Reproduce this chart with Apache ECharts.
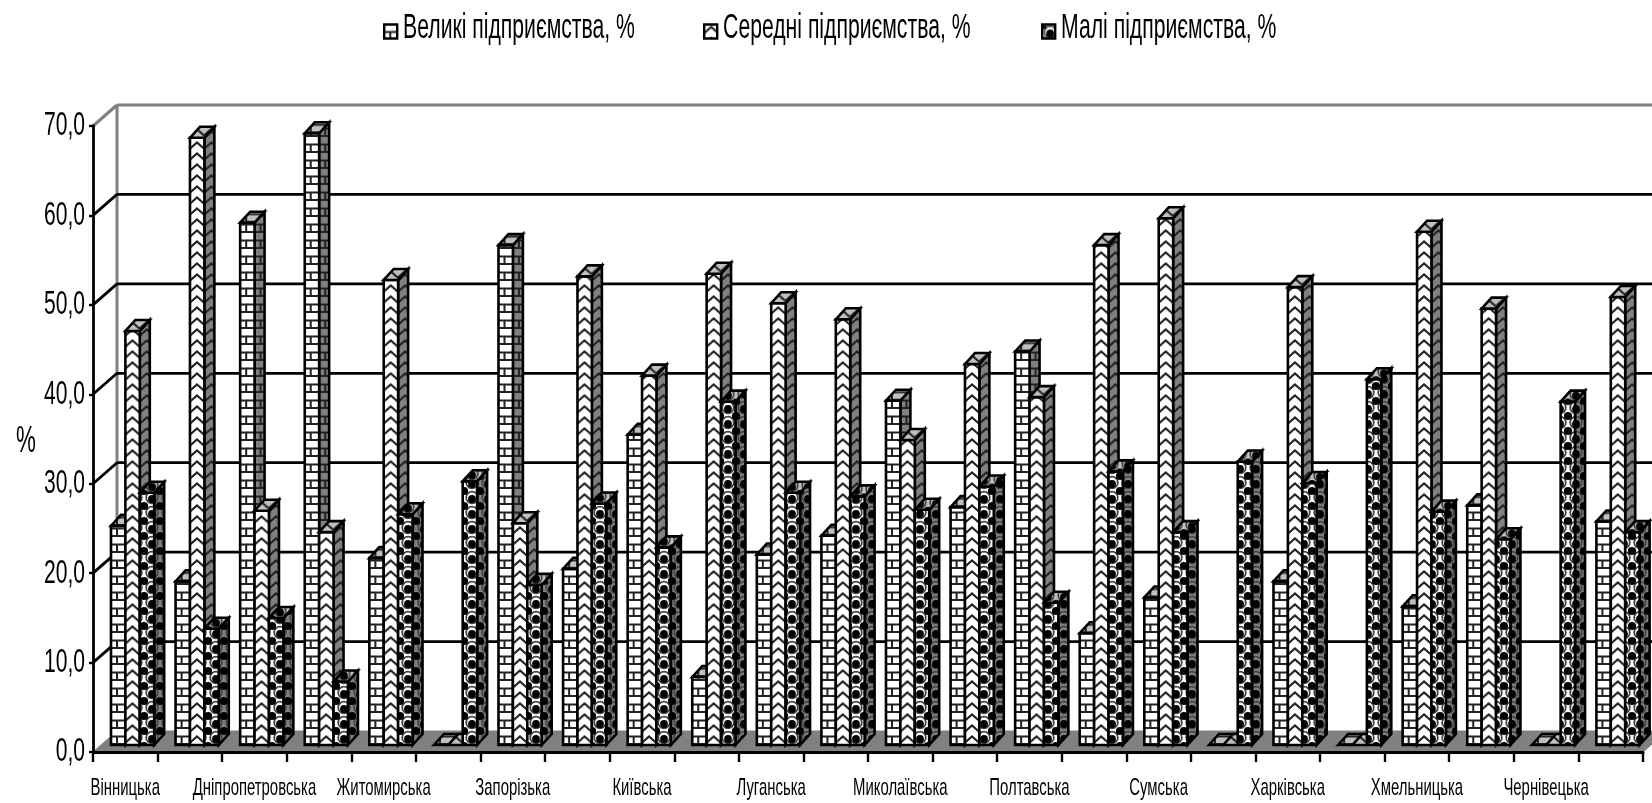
<!DOCTYPE html>
<html><head><meta charset="utf-8">
<style>html,body{margin:0;padding:0;background:#fff}#c{width:1652px;height:803px}</style>
<script src="https://cdn.jsdelivr.net/npm/echarts@6/dist/echarts.min.js"></script>
</head><body><div id="c"></div>
<script>
const categories = ['Вінницька','Волинська','Дніпропетровська','Донецька','Житомирська','Закарпатська','Запорізька','Івано-Франківська','Київська','Кіровоградська','Луганська','Львівська','Миколаївська','Одеська','Полтавська','Рівненська','Сумська','Тернопільська','Харківська','Херсонська','Хмельницька','Черкаська','Чернівецька','Чернігівська'];
const large  = [24.5,18.3,58.4,68.4,20.9,0,55.9,19.7,34.7,7.6,21.3,23.4,38.5,26.6,44,12.5,16.5,0,18.3,0,15.5,26.8,0,25];
const medium = [46.3,67.9,26.2,23.8,52,0,24.8,52.4,41.3,52.7,49.4,47.6,34.1,42.6,38.9,55.9,58.9,0,51.2,0,57.4,48.8,0,50.1];
const small  = [28.2,13,14.2,7.1,25.8,29.5,17.9,27,22.1,38.4,28.2,27.8,26.3,28.9,15.9,30.6,23.8,31.7,29.3,40.9,26.1,23,38.4,23.8];
const seriesNames = ['Великі підприємства, %','Середні підприємства, %','Малі підприємства, %'];
const wallTicks = [0,10,20,30,40,50,60,70];
const FONT = '"Liberation Sans"';
const TEXT_SCALE = 0.62, LEGEND_SCALE = 0.605;
const DEPTH_X = 24, DEPTH_Y = 21, BAR_W = 14.4, BAR_DX = 10, BAR_DY = 11, LIFT = 7, BAR_START = -14.3;

function tile(w, h, bg, draw) {
  const c = document.createElement('canvas'); c.width = w; c.height = h;
  const g = c.getContext('2d'); g.fillStyle = bg; g.fillRect(0, 0, w, h);
  g.strokeStyle = '#111'; g.fillStyle = '#000'; draw(g); return c;
}
const drawBrick = g => {
  g.lineWidth = 2; g.strokeStyle = '#222'; g.beginPath();
  g.moveTo(0,7.5); g.lineTo(14,7.5); g.moveTo(0,15); g.lineTo(14,15);
  g.moveTo(6,7.5); g.lineTo(6,15); g.stroke();
};
const drawChevron = g => {
  g.lineWidth = 2.2; g.strokeStyle = '#222'; g.beginPath();
  g.moveTo(-1,9.5); g.lineTo(7,2.5); g.lineTo(15,9.5); g.stroke();
};
const drawBall = g => {
  g.lineWidth = 1.8; g.strokeStyle = '#444';
  g.beginPath(); g.arc(8,7.5,5.8,0,Math.PI*2); g.stroke();
  g.beginPath(); g.arc(8,9,3.9,0,Math.PI*2); g.fill();
  for (const [x,y] of [[0,1],[16,1],[0,16],[16,16]]) { g.beginPath(); g.arc(x,y,4.1,0,Math.PI*2); g.fill(); }
};
const makers = [[14,16,drawBrick],[14,11,drawChevron],[16,15,drawBall]];
const tiles = makers.map(([w,h,d]) => ({
  front: tile(w,h,'#fff',d), side: tile(w,h,'#808080',d), cap: tile(w,h,'#c0c0c0',d)
}));
const pat = (img,x,y) => ({image:img, repeat:'repeat', x:x, y:y});

function barSeries(i, name, vals) {
  return {
    type:'custom', name, z:3+i, clip:false,
    data: vals.map((v,k)=>[k,v]),
    encode:{x:0,y:1},
    itemStyle:{color:'#000'},
    renderItem(params, api) {
      const k = api.value(0), v = api.value(1);
      const b = api.coord([k,0]), t = api.coord([k,v]);
      const x0 = b[0] + BAR_START + i*BAR_W, x1 = x0 + BAR_W;
      const yb = b[1] - LIFT, yt = t[1] - LIFT;
      const line = {stroke:'#000', lineWidth:2.6, lineJoin:'miter'};
      const T = tiles[i];
      const ax = i === 2 ? 0 : x0, ay = yb;
      const kids = [];
      if (v > 0) {
        kids.push({type:'polygon', shape:{points:[[x1,yb],[x1+BAR_DX,yb-BAR_DY],[x1+BAR_DX,yt-BAR_DY],[x1,yt]]},
          style:Object.assign({fill:pat(T.side,i === 2 ? 0 : x1,ay)},line)});
        kids.push({type:'rect', shape:{x:x0,y:yt,width:BAR_W,height:yb-yt},
          style:Object.assign({fill:pat(T.front,ax,ay)},line)});
      }
      kids.push({type:'polygon', shape:{points:[[x0,yt],[x0+BAR_DX,yt-BAR_DY],[x1+BAR_DX,yt-BAR_DY],[x1,yt]]},
        style:Object.assign({fill:pat(T.cap,ax,yt)},line)});
      return {type:'group', children:kids};
    }
  };
}

const wallSeries = {
  type:'custom', name:'wall', z:1, clip:false, silent:true, legendHoverLink:false,
  data: wallTicks.map(v=>[0,v]),
  encode:{x:0,y:1},
  renderItem(params, api) {
    const v = api.value(1), y = api.coord([0,v])[1];
    const cs = params.coordSys, L = cs.x, R = cs.x + cs.width;
    const gray = '#808080';
    const kids = [];
    if (v === 0) {
      kids.push({type:'polygon', shape:{points:[[L,y],[L+DEPTH_X,y-DEPTH_Y],[R+DEPTH_X,y-DEPTH_Y],[R,y]]}, style:{fill:gray, stroke:gray, lineWidth:1}});
      const top = api.coord([0,70])[1];
      kids.push({type:'line', shape:{x1:L+DEPTH_X,y1:top-DEPTH_Y,x2:L+DEPTH_X,y2:y-DEPTH_Y}, style:{stroke:gray,lineWidth:3}});
    } else {
      const col = v === 70 ? gray : '#000', w = v === 70 ? 3.2 : 2.8;
      kids.push({type:'line', shape:{x1:L,y1:y,x2:L+DEPTH_X,y2:y-DEPTH_Y}, style:{stroke:col,lineWidth:w}});
      kids.push({type:'line', shape:{x1:L+DEPTH_X,y1:y-DEPTH_Y,x2:R+DEPTH_X,y2:y-DEPTH_Y}, style:{stroke:col,lineWidth:w}});
    }
    return {type:'group', children:kids};
  }
};

const legendLefts = [383,703,1041];
const chart = echarts.init(document.getElementById('c'), null, {width:1652,height:803});
chart.setOption({
  animation:false, backgroundColor:'#fff',
  grid:{left:93, top:126, width:1550, height:626, containLabel:false, outerBoundsMode:'none'},
  legend: seriesNames.map((n,i)=>({
    left:legendLefts[i], top:14, padding:0, itemWidth:13, itemHeight:14, selectedMode:false, icon:'rect',
    textStyle:{fontFamily:FONT, fontSize:35, color:'#000'},
    data:[{name:n, itemStyle:{color:pat(tiles[i].front,0,0), borderColor:'#000', borderWidth:2.4}}]
  })),
  xAxis:{
    type:'category', data:categories, z:6,
    axisLine:{lineStyle:{color:'#000',width:2.8}},
    axisTick:{show:true, alignWithLabel:false, interval:0, length:10, lineStyle:{color:'#000',width:2.4}},
    axisLabel:{interval:1, margin:24, hideOverlap:false, showMinLabel:true, fontFamily:FONT, fontSize:24, color:'#000'}
  },
  yAxis:{
    type:'value', min:0, max:70, interval:10, z:6,
    name:'%', nameLocation:'middle', nameRotate:0, nameGap:54,
    nameTextStyle:{fontFamily:FONT, fontSize:36, color:'#000', padding:[8,0,0,0]},
    axisLine:{show:true, lineStyle:{color:'#000',width:2.8}},
    axisTick:{show:true, length:4, lineStyle:{color:'#000',width:2.4}},
    splitLine:{show:false},
    axisLabel:{margin:8, showMinLabel:true, fontFamily:FONT, fontSize:34, color:'#000', padding:[0,0,6,0],
      formatter:v=>v.toFixed(1).replace('.',',')}
  },
  series:[wallSeries, barSeries(0,seriesNames[0],large), barSeries(1,seriesNames[1],medium), barSeries(2,seriesNames[2],small)]
});
// The reference uses a condensed face that is not installed: condense the real text horizontally.
const zr = chart.getZr();
(function walk(list){ list.forEach(el=>{
  if (el.type==='text' && el.style && el.style.text) {
    el.scaleX = TEXT_SCALE; el.originX = 0; el.ignore = false;
    if (seriesNames.includes(el.style.text)) { el.scaleX = LEGEND_SCALE; el.x += 8; el.y -= 3; }
    if (el.style.text === '%') { el.x += 23; el.y += 3; }
    el.markRedraw();
  } else if (el.isGroup) walk(el.children());
});})(zr.storage.getRoots());
zr.refreshImmediately();
</script></body></html>
